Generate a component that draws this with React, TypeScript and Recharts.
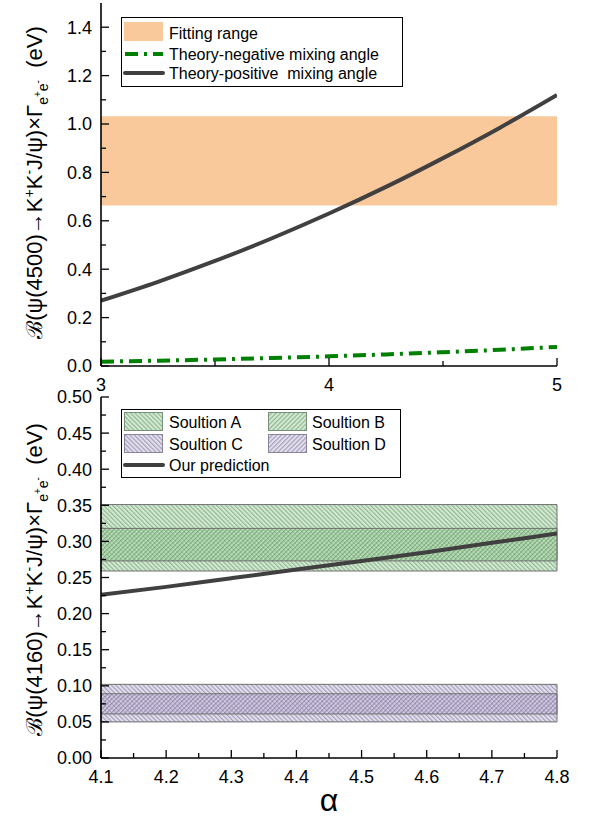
import React from 'react';
import { ComposedChart, Line, XAxis, YAxis, ReferenceArea, Legend } from 'recharts';

const FONT = "Arial, 'Liberation Sans', Helvetica, sans-serif";
const ORANGE = '#F9C89B';
const GREEN = '#008000';
const DARK = '#404040';

// ---------- top panel data ----------
const alphaTop = [3, 3.25, 3.5, 3.75, 4, 4.25, 4.5, 4.75, 5];
const positiveMixing = [0.27, 0.348, 0.434, 0.528, 0.63, 0.74, 0.859, 0.985, 1.12];
const negativeMixing = [0.018, 0.022, 0.027, 0.033, 0.04, 0.048, 0.057, 0.067, 0.079];
const fittingRange = [0.663, 1.032];
const topXTicks = [3, 3.5, 4, 4.5, 5];
const topXMajor = [3, 4, 5];
const topXLabels = ['3', '4', '5'];
const topYTicks = [0, 0.1, 0.2, 0.3, 0.4, 0.5, 0.6, 0.7, 0.8, 0.9, 1.0, 1.1, 1.2, 1.3, 1.4];
const topYMajor = [0, 0.2, 0.4, 0.6, 0.8, 1.0, 1.2, 1.4];
const topYLabels = ['0.0', '0.2', '0.4', '0.6', '0.8', '1.0', '1.2', '1.4'];

// ---------- bottom panel data ----------
const alphaBottom = [4.1, 4.2, 4.3, 4.4, 4.5, 4.6, 4.7, 4.8];
const prediction = [0.226, 0.237, 0.249, 0.261, 0.273, 0.285, 0.298, 0.311];
const solutionA = [0.259, 0.351];
const solutionB = [0.273, 0.318];
const solutionC = [0.05, 0.102];
const solutionD = [0.061, 0.089];
const bottomXTicks = [4.1, 4.15, 4.2, 4.25, 4.3, 4.35, 4.4, 4.45, 4.5, 4.55, 4.6, 4.65, 4.7, 4.75, 4.8];
const bottomXMajor = [4.1, 4.2, 4.3, 4.4, 4.5, 4.6, 4.7, 4.8];
const bottomXLabels = ['4.1', '4.2', '4.3', '4.4', '4.5', '4.6', '4.7', '4.8'];
const bottomYTicks = [0, 0.025, 0.05, 0.075, 0.1, 0.125, 0.15, 0.175, 0.2, 0.225, 0.25, 0.275, 0.3, 0.325, 0.35, 0.375, 0.4, 0.425, 0.45, 0.475, 0.5];
const bottomYMajor = [0, 0.05, 0.1, 0.15, 0.2, 0.25, 0.3, 0.35, 0.4, 0.45, 0.5];
const bottomYLabels = ['0.00', '0.05', '0.10', '0.15', '0.20', '0.25', '0.30', '0.35', '0.40', '0.45', '0.50'];

const topData = alphaTop.map((a, i) => ({ alpha: a, positive: positiveMixing[i], negative: negativeMixing[i] }));
const bottomData = alphaBottom.map((a, i) => ({ alpha: a, prediction: prediction[i] }));

function labelFor(v: number, major: number[], labels: string[]) {
  const i = major.findIndex((m) => Math.abs(m - v) < 1e-9);
  return i >= 0 ? labels[i] : null;
}

const makeYTick = (major: number[], labels: string[]) => (props: any) => {
  const { x, y, payload } = props;
  const lab = labelFor(payload.value, major, labels);
  return (
    <g>
      <line x1={x} x2={x + (lab !== null ? 8 : 5)} y1={y} y2={y} stroke="#000" strokeWidth={1.3} />
      {lab !== null && (
        <text x={x - 9} y={y} dy="0.36em" textAnchor="end" fontSize={18} fontFamily={FONT} fill="#000">
          {lab}
        </text>
      )}
    </g>
  );
};

const makeXTick = (major: number[], labels: string[]) => (props: any) => {
  const { x, y, payload } = props;
  const lab = labelFor(payload.value, major, labels);
  return (
    <g>
      <line x1={x} x2={x} y1={y} y2={y - (lab !== null ? 8 : 5)} stroke="#000" strokeWidth={1.3} />
      {lab !== null && (
        <text x={x} y={y + 25} textAnchor="middle" fontSize={18} fontFamily={FONT} fill="#000">
          {lab}
        </text>
      )}
    </g>
  );
};

const YTitle = (props: any) => {
  const vb = props.viewBox || { x: 0, y: 0, width: 0, height: 0 };
  const cx = 42;
  const cy = vb.y + vb.height / 2 + (props.shift || 0);
  return (
    <text
      x={cx}
      y={cy}
      transform={`rotate(-90 ${cx} ${cy})`}
      textAnchor="middle"
      fontSize={22}
      fontFamily={FONT}
      fill="#000"
    >
      <tspan>{`\u212C(\u03C8(${props.particle})\u2192K`}</tspan>
      <tspan dy={-8} fontSize={14}>+</tspan>
      <tspan dy={8}>K</tspan>
      <tspan dy={-8} fontSize={14}>-</tspan>
      <tspan dy={8}>{'J/\u03C8)\u00D7\u0393'}</tspan>
      <tspan dy={6} fontSize={14}>e</tspan>
      <tspan dy={-7} fontSize={10}>+</tspan>
      <tspan dy={7} fontSize={14}>e</tspan>
      <tspan dy={-7} fontSize={10}>-</tspan>
      <tspan dy={1}>{'\u00A0\u00A0(eV)'}</tspan>
    </text>
  );
};

const AlphaTitle = (props: any) => {
  const vb = props.viewBox || { x: 0, y: 0, width: 0, height: 0 };
  return (
    <text x={vb.x + vb.width / 2} y={vb.y + 53} textAnchor="middle" fontSize={32} fontFamily={FONT} fill="#000">
      {'\u03B1'}
    </text>
  );
};

const TopLegend = () => (
  <svg width={283} height={71} style={{ display: 'block' }}>
    <rect x={0.5} y={0.5} width={281} height={69} fill="#fff" stroke="#000" strokeWidth={1} />
    <rect x={3} y={5} width={39} height={19} fill={ORANGE} />
    <text x={48} y={22} fontSize={16} fontFamily={FONT} fill="#000">Fitting range</text>
    <line x1={4} x2={42} y1={37} y2={37} stroke={GREEN} strokeWidth={4} strokeDasharray="13 6 3 6" />
    <text x={48} y={43} fontSize={16} fontFamily={FONT} fill="#000">Theory-negative mixing angle</text>
    <line x1={4} x2={42} y1={56} y2={56} stroke={DARK} strokeWidth={4} strokeLinecap="round" />
    <text x={48} y={62} fontSize={16} fontFamily={FONT} fill="#000">{'Theory-positive\u00A0 mixing angle'}</text>
  </svg>
);

const BottomLegend = () => (
  <svg width={281} height={70} style={{ display: 'block' }}>
    <rect x={0.5} y={0.5} width={279} height={68} fill="#fff" stroke="#000" strokeWidth={1} />
    <rect x={3.5} y={3.5} width={38} height={18} fill="url(#hatchA)" stroke="#7a8f7a" strokeWidth={1} />
    <text x={48} y={19} fontSize={16} fontFamily={FONT} fill="#000">Soultion A</text>
    <rect x={147.5} y={3.5} width={38} height={18} fill="url(#hatchB)" stroke="#7a8f7a" strokeWidth={1} />
    <text x={191} y={19} fontSize={16} fontFamily={FONT} fill="#000">Soultion B</text>
    <rect x={3.5} y={25.5} width={38} height={18} fill="url(#hatchC)" stroke="#8a859a" strokeWidth={1} />
    <text x={48} y={41} fontSize={16} fontFamily={FONT} fill="#000">Soultion C</text>
    <rect x={147.5} y={25.5} width={38} height={18} fill="url(#hatchD)" stroke="#8a859a" strokeWidth={1} />
    <text x={191} y={41} fontSize={16} fontFamily={FONT} fill="#000">Soultion D</text>
    <line x1={4} x2={42} y1={56} y2={56} stroke={DARK} strokeWidth={4} strokeLinecap="round" />
    <text x={48} y={62} fontSize={16} fontFamily={FONT} fill="#000">Our prediction</text>
  </svg>
);

const Patterns = () => (
  <svg width={0} height={0} style={{ position: 'absolute', left: 0, top: 0 }}>
    <defs>
      <pattern id="hatchA" width={3.2} height={3.2} patternUnits="userSpaceOnUse" patternTransform="rotate(-45)">
        <rect width={3.2} height={3.2} fill="#a3d6a3" fillOpacity={0.5} />
        <line x1={0.6} y1={0} x2={0.6} y2={3.2} stroke="#4d7a4d" strokeOpacity={0.5} strokeWidth={1.1} />
      </pattern>
      <pattern id="hatchB" width={3.2} height={3.2} patternUnits="userSpaceOnUse" patternTransform="rotate(45)">
        <rect width={3.2} height={3.2} fill="#a3d6a3" fillOpacity={0.5} />
        <line x1={0.6} y1={0} x2={0.6} y2={3.2} stroke="#4d7a4d" strokeOpacity={0.5} strokeWidth={1.1} />
      </pattern>
      <pattern id="hatchC" width={3.2} height={3.2} patternUnits="userSpaceOnUse" patternTransform="rotate(-45)">
        <rect width={3.2} height={3.2} fill="#c4b8dc" fillOpacity={0.45} />
        <line x1={0.6} y1={0} x2={0.6} y2={3.2} stroke="#5d5578" strokeOpacity={0.5} strokeWidth={1.1} />
      </pattern>
      <pattern id="hatchD" width={3.2} height={3.2} patternUnits="userSpaceOnUse" patternTransform="rotate(45)">
        <rect width={3.2} height={3.2} fill="#c4b8dc" fillOpacity={0.45} />
        <line x1={0.6} y1={0} x2={0.6} y2={3.2} stroke="#5d5578" strokeOpacity={0.5} strokeWidth={1.1} />
      </pattern>
    </defs>
  </svg>
);

const axisLine = { stroke: '#000', strokeWidth: 1.6 };

export default function App() {
  return (
    <div style={{ position: 'absolute', left: 0, top: 0, width: 595, height: 819, background: '#fff' }}>
      <Patterns />
      <div style={{ position: 'absolute', left: 0, top: 0 }}>
        <ComposedChart width={595} height={395} data={topData} margin={{ top: 3, right: 38, bottom: 0, left: 0 }}>
          <XAxis
            dataKey="alpha"
            type="number"
            domain={[3, 5]}
            ticks={topXTicks}
            interval={0}
            tickSize={0}
            tickMargin={0}
            tickLine={false}
            axisLine={axisLine}
            height={29}
            tick={makeXTick(topXMajor, topXLabels)}
            allowDataOverflow
          />
          <XAxis xAxisId="top" orientation="top" type="number" domain={[3, 5]} height={0} tick={false} tickLine={false} axisLine={axisLine} />
          <YAxis
            type="number"
            domain={[0, 1.5]}
            ticks={topYTicks}
            interval={0}
            width={101}
            tickSize={0}
            tickMargin={0}
            tickLine={false}
            axisLine={axisLine}
            tick={makeYTick(topYMajor, topYLabels)}
            label={<YTitle particle="4500" shift={-2} />}
            allowDataOverflow
          />
          <YAxis yAxisId="right" orientation="right" type="number" domain={[0, 1.5]} width={0} tick={false} tickLine={false} axisLine={axisLine} />
          <ReferenceArea y1={fittingRange[0]} y2={fittingRange[1]} fill={ORANGE} fillOpacity={1} stroke="none" />
          <Line
            dataKey="negative"
            type="monotone"
            stroke={GREEN}
            strokeWidth={4}
            strokeDasharray="13 6 3 6"
            dot={false}
            activeDot={false}
            isAnimationActive={false}
          />
          <Line dataKey="positive" type="monotone" stroke={DARK} strokeWidth={4} dot={false} activeDot={false} isAnimationActive={false} />
          <Legend
            layout="vertical"
            align="center"
            verticalAlign="middle"
            content={TopLegend}
            wrapperStyle={{ position: 'absolute', left: 121, top: 17, width: 'auto', height: 'auto' }}
          />
        </ComposedChart>
      </div>
      <div style={{ position: 'absolute', left: 0, top: 380 }}>
        <ComposedChart width={595} height={439} data={bottomData} margin={{ top: 17, right: 38, bottom: 0, left: 0 }}>
          <XAxis
            dataKey="alpha"
            type="number"
            domain={[4.1, 4.8]}
            ticks={bottomXTicks}
            interval={0}
            tickSize={0}
            tickMargin={0}
            tickLine={false}
            axisLine={axisLine}
            height={61}
            tick={makeXTick(bottomXMajor, bottomXLabels)}
            label={<AlphaTitle />}
            allowDataOverflow
          />
          <XAxis xAxisId="top" orientation="top" type="number" domain={[4.1, 4.8]} height={0} tick={false} tickLine={false} axisLine={axisLine} />
          <YAxis
            type="number"
            domain={[0, 0.5]}
            ticks={bottomYTicks}
            interval={0}
            width={101}
            tickSize={0}
            tickMargin={0}
            tickLine={false}
            axisLine={axisLine}
            tick={makeYTick(bottomYMajor, bottomYLabels)}
            label={<YTitle particle="4160" shift={2} />}
            allowDataOverflow
          />
          <YAxis yAxisId="right" orientation="right" type="number" domain={[0, 0.5]} width={0} tick={false} tickLine={false} axisLine={axisLine} />
          <ReferenceArea y1={solutionA[0]} y2={solutionA[1]} fill="url(#hatchA)" fillOpacity={1} stroke="#707070" strokeWidth={1} />
          <ReferenceArea y1={solutionB[0]} y2={solutionB[1]} fill="url(#hatchB)" fillOpacity={1} stroke="#707070" strokeWidth={1} />
          <ReferenceArea y1={solutionC[0]} y2={solutionC[1]} fill="url(#hatchC)" fillOpacity={1} stroke="#707070" strokeWidth={1} />
          <ReferenceArea y1={solutionD[0]} y2={solutionD[1]} fill="url(#hatchD)" fillOpacity={1} stroke="#707070" strokeWidth={1} />
          <Line dataKey="prediction" type="monotone" stroke={DARK} strokeWidth={4} dot={false} activeDot={false} isAnimationActive={false} />
          <Legend
            layout="vertical"
            align="center"
            verticalAlign="middle"
            content={BottomLegend}
            wrapperStyle={{ position: 'absolute', left: 121, top: 29, width: 'auto', height: 'auto' }}
          />
        </ComposedChart>
      </div>
    </div>
  );
}
